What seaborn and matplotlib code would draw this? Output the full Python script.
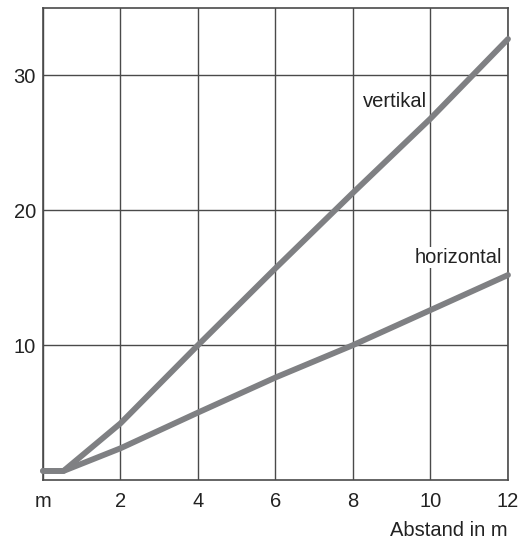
"""Abstand vs. Wert: vertikal / horizontal."""

import matplotlib

matplotlib.use("Agg")
import matplotlib.pyplot as plt
import pandas as pd
import seaborn as sns

# ---------------------------------------------------------------------------
# Daten
# ---------------------------------------------------------------------------

ABSTAND = [0.0, 0.53, 2, 4, 6, 8, 10, 12]
VERTIKAL = [0.67, 0.67, 4.2, 10.0, 15.7, 21.3, 26.8, 32.7]
HORIZONTAL = [0.67, 0.67, 2.35, 5.0, 7.6, 10.0, 12.6, 15.2]

X_TICKS = [0, 2, 4, 6, 8, 10, 12]
X_TICK_LABELS = ["m", "2", "4", "6", "8", "10", "12"]
Y_TICKS = [10, 20, 30]

LINIEN_FARBE = "#7f8083"
GITTER_FARBE = "#4a4a4a"
TEXT_FARBE = "#222222"

df = pd.DataFrame(
    {
        "Abstand": ABSTAND * 2,
        "Wert": VERTIKAL + HORIZONTAL,
        "Richtung": ["vertikal"] * len(ABSTAND) + ["horizontal"] * len(ABSTAND),
    }
)

sns.set_theme(style="white")
plt.rcParams["font.family"] = ["Liberation Sans", "DejaVu Sans"]

fig = plt.figure(figsize=(5.23, 5.41), dpi=100)
ax = fig.add_axes([0.0822, 0.1128, 0.8891, 0.8724])

sns.lineplot(
    data=df,
    x="Abstand",
    y="Wert",
    hue="Richtung",
    palette=[LINIEN_FARBE, LINIEN_FARBE],
    linewidth=4.2,
    legend=False,
    ax=ax,
    zorder=3,
)
# runde Enden, die leicht über den Rahmen hinausragen
for line in ax.get_lines():
    line.set_solid_capstyle("round")
    line.set_solid_joinstyle("round")
    line.set_clip_on(False)

ax.set_xlim(0, 12)
ax.set_ylim(0, 35)
ax.set_xticks(X_TICKS)
ax.set_xticklabels(X_TICK_LABELS)
ax.set_yticks(Y_TICKS)

ax.grid(True, color=GITTER_FARBE, linewidth=1.0)
ax.set_axisbelow(True)
for spine in ax.spines.values():
    spine.set_color(GITTER_FARBE)
    spine.set_linewidth(1.2)

ax.tick_params(axis="both", length=0, labelsize=14.5, colors=TEXT_FARBE)
ax.tick_params(axis="x", pad=9)
ax.tick_params(axis="y", pad=5)

ax.set_ylabel("")
ax.set_xlabel("Abstand in m", loc="right", fontsize=14.5, color=TEXT_FARBE, labelpad=7)

ax.text(9.9, 28.1, "vertikal", ha="right", va="center", fontsize=14.5, color=TEXT_FARBE,
        bbox=dict(facecolor="white", edgecolor="none", pad=0.5), zorder=2)
ax.text(11.86, 16.5, "horizontal", ha="right", va="center", fontsize=14.5, color=TEXT_FARBE,
        bbox=dict(facecolor="white", edgecolor="none", pad=0.5), zorder=2)

fig.savefig("out.png", dpi=100)
plt.close(fig)
